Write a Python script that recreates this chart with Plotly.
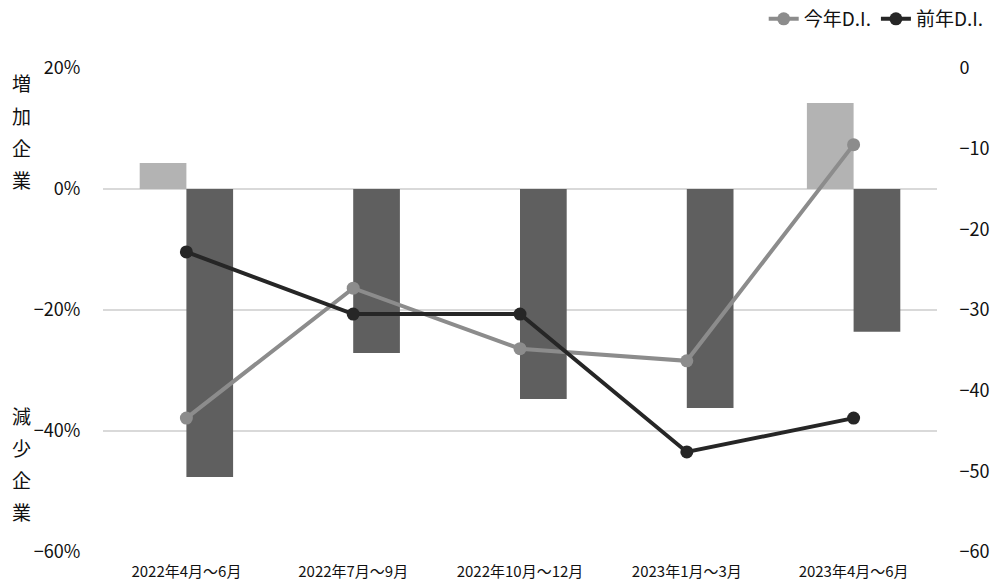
import plotly.graph_objects as go

categories = ["2022年4月～6月", "2022年7月～9月", "2022年10月～12月", "2023年1月～3月", "2023年4月～6月"]
increase_pct = [4.3, 0.0, 0.0, 0.0, 14.2]
decrease_pct = [-47.6, -27.1, -34.7, -36.2, -23.6]
di_this_year = [-43.4, -27.3, -34.8, -36.3, -9.5]
di_last_year = [-22.8, -30.5, -30.5, -47.6, -43.4]
label_up = ["増", "加", "企", "業"]
label_down = ["減", "少", "企", "業"]

FONT = "Noto Sans CJK JP"
TXT = "#111111"

fig = go.Figure()
fig.add_trace(go.Bar(x=categories, y=increase_pct, marker=dict(color="#b3b3b3", line=dict(width=0)),
                     showlegend=False, name="増加企業"))
fig.add_trace(go.Bar(x=categories, y=decrease_pct, marker=dict(color="#5f5f5f", line=dict(width=0)),
                     showlegend=False, name="減少企業"))
fig.add_trace(go.Scatter(x=categories, y=di_this_year, yaxis="y2", mode="lines+markers", name="今年D.I.",
                         line=dict(color="#8c8c8c", width=4), marker=dict(size=13, color="#8c8c8c")))
fig.add_trace(go.Scatter(x=categories, y=di_last_year, yaxis="y2", mode="lines+markers", name="前年D.I.",
                         line=dict(color="#262626", width=4), marker=dict(size=13, color="#262626")))

annotations = []
for i, ch in enumerate(label_up):
    annotations.append(dict(text=ch, xref="paper", yref="paper", x=(21 - 103) / 834, y=(552 - (83 + 32.3 * i)) / 484,
                            xanchor="center", yanchor="middle", showarrow=False, font=dict(size=19, color=TXT)))
for i, ch in enumerate(label_down):
    annotations.append(dict(text=ch, xref="paper", yref="paper", x=(21 - 103) / 834, y=(552 - (415 + 32.3 * i)) / 484,
                            xanchor="center", yanchor="middle", showarrow=False, font=dict(size=19, color=TXT)))

fig.update_layout(
    width=1000, height=588,
    margin=dict(l=103, r=63, t=68, b=36, autoexpand=False),
    plot_bgcolor="white", paper_bgcolor="white",
    font=dict(family=FONT, color=TXT),
    barmode="group", bargap=0.44, bargroupgap=0,
    xaxis=dict(showgrid=False, showline=False, tickfont=dict(size=15, color=TXT), automargin=False,
               ticks="outside", ticklen=6, tickcolor="white"),
    yaxis=dict(range=[-60, 20], tickvals=[20, 0, -20, -40, -60], ticktext=["20%", "0%", "\u221220%", "\u221240%", "\u221260%"],
               showgrid=True, gridcolor="#d9d9d9", gridwidth=2, zeroline=False, showline=False, automargin=False,
               ticks="outside", ticklen=18, tickcolor="white", tickfont=dict(size=18, color=TXT)),
    yaxis2=dict(range=[-60, 0], overlaying="y", side="right", tickvals=[0, -10, -20, -30, -40, -50, -60],
                ticktext=["0", "\u221210", "\u221220", "\u221230", "\u221240", "\u221250", "\u221260"],
                showgrid=False, zeroline=False, showline=False, automargin=False,
                ticks="outside", ticklen=18, tickcolor="white", tickfont=dict(size=18, color=TXT)),
    legend=dict(orientation="h", x=1.062, xanchor="right", y=1.0, yanchor="top", yref="container",
                font=dict(size=19, color=TXT), tracegroupgap=0, bgcolor="rgba(0,0,0,0)"),
    annotations=annotations,
)

fig.write_html("out.html", config={"displayModeBar": False},
               post_script="document.body.style.margin='0';document.body.style.overflow='hidden';")
